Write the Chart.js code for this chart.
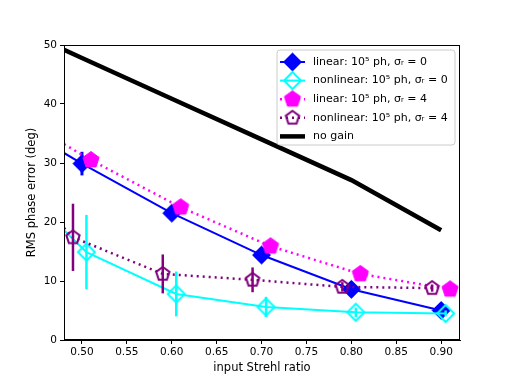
<!DOCTYPE html>
<html>
<head>
<meta charset="utf-8">
<script src="https://cdn.jsdelivr.net/npm/chart.js@4/dist/chart.umd.min.js"></script>
<style>
  html, body { margin: 0; padding: 0; background: #fff; }
  #wrap { width: 510px; height: 382px; position: relative; }
</style>
</head>
<body>
<div id="wrap"><canvas id="chart" width="510" height="382"></canvas></div>
<script>
// x positions (first entry = where the line enters the left edge, no marker)
const xLinear0 = [0.48, 0.50, 0.60, 0.70, 0.80, 0.90];
const yLinear0 = [31.7, 29.9, 21.5, 14.4, 8.6, 5.0];
const eLinear0 = [0, 2.0, 0.8, 0.8, 0.6, 0.5];

const xNonlin0 = [0.48, 0.505, 0.605, 0.705, 0.805, 0.905];
const yNonlin0 = [18.6, 14.9, 7.8, 5.6, 4.7, 4.5];
const eNonlin0 = [0, 6.3, 3.8, 1.7, 0.8, 0.5];

const xLinear4 = [0.48, 0.51, 0.61, 0.71, 0.81, 0.91];
const yLinear4 = [33.2, 30.5, 22.5, 15.9, 11.2, 8.6];
const eLinear4 = [0, 1.0, 0.8, 0.6, 0.5, 0.4];

const xNonlin4 = [0.48, 0.49, 0.59, 0.69, 0.79, 0.89];
const yNonlin4 = [19.0, 17.4, 11.2, 10.2, 9.0, 8.8];
const eNonlin4 = [0, 5.7, 3.3, 2.1, 0.8, 0.6];

const xNoGain = [0.48, 0.50, 0.60, 0.70, 0.80, 0.90];
const yNoGain = [49.2, 47.8, 40.9, 34.0, 27.1, 18.6];

const legendLabels = [
    'linear: 10\u2075 ph, \u03c3\u1d63 = 0',
    'nonlinear: 10\u2075 ph, \u03c3\u1d63 = 0',
    'linear: 10\u2075 ph, \u03c3\u1d63 = 4',
    'nonlinear: 10\u2075 ph, \u03c3\u1d63 = 4',
    'no gain'
];

const FONT = 'DejaVu Sans';

// marker images
function makeMarker(shape, r, fill, stroke, lw) {
    const s = Math.ceil(2 * r + lw + 2);
    const c = document.createElement('canvas');
    c.width = s; c.height = s;
    const g = c.getContext('2d');
    const cx = s / 2, cy = s / 2;
    g.beginPath();
    if (shape === 'diamond') {
        g.moveTo(cx, cy - r); g.lineTo(cx + r, cy); g.lineTo(cx, cy + r); g.lineTo(cx - r, cy);
    } else {
        for (let i = 0; i < 5; i++) {
            const a = -Math.PI / 2 + i * 2 * Math.PI / 5;
            const px = cx + r * Math.cos(a), py = cy + r * Math.sin(a);
            if (i === 0) g.moveTo(px, py); else g.lineTo(px, py);
        }
    }
    g.closePath();
    if (fill) { g.fillStyle = fill; g.fill(); }
    if (stroke) { g.strokeStyle = stroke; g.lineWidth = lw; g.lineJoin = 'miter'; g.stroke(); }
    return c;
}

const mBlue = makeMarker('diamond', 9, '#0000ff', '#0000ff', 1);
const mCyan = makeMarker('diamond', 8.5, null, '#00ffff', 2);
const mMag = makeMarker('pentagon', 8.5, '#ff00ff', '#ff00ff', 1);
const mPurp = makeMarker('pentagon', 7, null, '#800080', 2);

function pts(xs, ys) {
    return xs.map((x, i) => ({ x: x, y: ys[i] }));
}
function styles(m, n) {
    const a = [];
    for (let i = 0; i < n; i++) a.push(i === 0 ? false : m);
    return a;
}
function radii(n) {
    const a = [];
    for (let i = 0; i < n; i++) a.push(i === 0 ? 0 : 9);
    return a;
}

const datasets = [
    {
        label: legendLabels[3], data: pts(xNonlin4, yNonlin4), errs: eNonlin4,
        borderColor: '#800080', borderWidth: 2.5, borderDash: [2, 4], marker: mPurp,
        pointStyle: styles(mPurp, 6), pointRadius: radii(6), errWidth: 2.5
    },
    {
        label: legendLabels[2], data: pts(xLinear4, yLinear4), errs: eLinear4,
        borderColor: '#ff00ff', borderWidth: 2.5, borderDash: [2, 4], marker: mMag,
        pointStyle: styles(mMag, 6), pointRadius: radii(6), errWidth: 2.5
    },
    {
        label: legendLabels[1], data: pts(xNonlin0, yNonlin0), errs: eNonlin0,
        borderColor: '#00ffff', borderWidth: 2, marker: mCyan,
        pointStyle: styles(mCyan, 6), pointRadius: radii(6), errWidth: 2.5
    },
    {
        label: legendLabels[0], data: pts(xLinear0, yLinear0), errs: eLinear0,
        borderColor: '#0000ff', borderWidth: 2, marker: mBlue,
        pointStyle: styles(mBlue, 6), pointRadius: radii(6), errWidth: 3
    },
    {
        label: legendLabels[4], data: pts(xNoGain, yNoGain),
        borderColor: '#000000', borderWidth: 4.5, pointRadius: 0
    }
];
datasets.forEach(d => {
    d.showLine = true;
    d.fill = false;
    d.tension = 0;
    d.borderCapStyle = 'butt';
    d.pointHoverRadius = d.pointRadius;
});

// error bars, drawn under each dataset's own line and markers
const errorBars = {
    id: 'errorBars',
    beforeDatasetDraw(chart, args) {
        const ds = chart.data.datasets[args.index];
        if (!ds.errs) return;
        const xs = chart.scales.x, ys = chart.scales.y;
        const ctx = chart.ctx;
        ctx.save();
        ctx.beginPath();
        ctx.rect(chart.chartArea.left, chart.chartArea.top,
                 chart.chartArea.right - chart.chartArea.left, chart.chartArea.bottom - chart.chartArea.top);
        ctx.clip();
        ctx.strokeStyle = ds.borderColor;
        ctx.lineWidth = ds.errWidth;
        ds.data.forEach((p, i) => {
            const e = ds.errs[i];
            if (!e) return;
            const px = xs.getPixelForValue(p.x);
            ctx.beginPath();
            ctx.moveTo(px, ys.getPixelForValue(p.y - e));
            ctx.lineTo(px, ys.getPixelForValue(p.y + e));
            ctx.stroke();
        });
        ctx.restore();
    }
};

// full black frame + in-plot legend
const frameLegend = {
    id: 'frameLegend',
    afterDraw(chart) {
        const ctx = chart.ctx;
        const a = chart.chartArea;
        ctx.save();
        ctx.strokeStyle = '#000';
        ctx.lineWidth = 1;
        ctx.strokeRect(Math.round(a.left) + 0.5, Math.round(a.top) + 0.5,
                       Math.round(a.right - a.left) - 1, Math.round(a.bottom - a.top) - 1);

        // legend box
        const bx = 277, by = 50, bw = 178, bh = 95, rr = 3;
        ctx.beginPath();
        ctx.moveTo(bx + rr, by);
        ctx.arcTo(bx + bw, by, bx + bw, by + bh, rr);
        ctx.arcTo(bx + bw, by + bh, bx, by + bh, rr);
        ctx.arcTo(bx, by + bh, bx, by, rr);
        ctx.arcTo(bx, by, bx + bw, by, rr);
        ctx.closePath();
        ctx.fillStyle = 'rgba(255,255,255,0.8)';
        ctx.fill();
        ctx.strokeStyle = '#cccccc';
        ctx.stroke();

        const order = [3, 2, 1, 0, 4];
        ctx.font = '11px "' + FONT + '"';
        ctx.textBaseline = 'middle';
        ctx.textAlign = 'left';
        order.forEach((di, row) => {
            const ds = chart.data.datasets[di];
            const cy = 62 + row * 18.6;
            ctx.save();
            ctx.strokeStyle = ds.borderColor;
            ctx.lineWidth = ds.borderWidth;
            ctx.lineCap = 'butt';
            if (ds.borderDash) ctx.setLineDash(ds.borderDash);
            ctx.beginPath();
            ctx.moveTo(280, cy);
            ctx.lineTo(305, cy);
            ctx.stroke();
            ctx.restore();
            if (ds.marker) {
                const m = ds.marker;
                ctx.drawImage(m, 292.5 - m.width / 2, cy - m.height / 2);
            }
            ctx.fillStyle = '#000';
            ctx.fillText(ds.label, 313, cy);
        });
        ctx.restore();
    }
};

new Chart(document.getElementById('chart'), {
    type: 'scatter',
    data: { datasets: datasets },
    plugins: [errorBars, frameLegend],
    options: {
        responsive: false,
        animation: false,
        events: [],
        layout: { padding: { top: 45, right: 50, left: 25, bottom: 0 } },
        plugins: { legend: { display: false }, tooltip: { enabled: false } },
        scales: {
            x: {
                type: 'linear',
                min: 0.48,
                max: 0.921,
                afterFit(s) { s.height = 42; },
                grid: { drawOnChartArea: false, tickLength: 4, color: '#000' },
                border: { color: '#000' },
                ticks: {
                    stepSize: 0.05,
                    includeBounds: false,
                    padding: 2,
                    color: '#000',
                    font: { family: FONT, size: 10.5 },
                    maxRotation: 0,
                    callback: v => v.toFixed(2)
                },
                title: {
                    display: true,
                    text: 'input Strehl ratio',
                    color: '#000',
                    font: { family: FONT, size: 11.5 },
                    padding: { top: 2, bottom: 7 }
                }
            },
            y: {
                min: 0,
                max: 50,
                afterFit(s) { s.width = 39; },
                grid: { drawOnChartArea: false, tickLength: 4, color: '#000' },
                border: { color: '#000' },
                ticks: {
                    stepSize: 10,
                    padding: 3,
                    color: '#000',
                    font: { family: FONT, size: 10.5 }
                },
                title: {
                    display: true,
                    text: 'RMS phase error (deg)',
                    color: '#000',
                    font: { family: FONT, size: 11.5 },
                    padding: { top: 0, bottom: 0 }
                }
            }
        }
    }
});
</script>
</body>
</html>
